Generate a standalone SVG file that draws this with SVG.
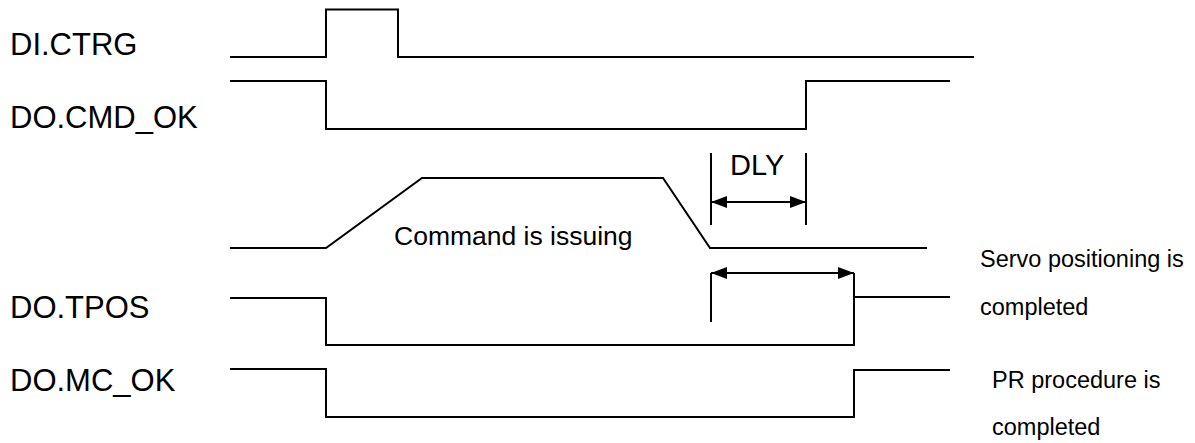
<svg xmlns="http://www.w3.org/2000/svg" width="1195" height="443" viewBox="0 0 1195 443">
<style>
.sig{fill:none;stroke:#000;stroke-width:2;stroke-linejoin:miter}
.dim{fill:none;stroke:#000;stroke-width:2}
.lbl{font-family:"Liberation Sans",Arial,sans-serif;font-size:31px;fill:#000}
.note{font-family:"Liberation Sans",Arial,sans-serif;font-size:23.5px;fill:#000}
</style>
<defs>
<marker id="ah" viewBox="0 0 16 12" refX="16" refY="6" markerWidth="16" markerHeight="12" markerUnits="userSpaceOnUse" orient="auto-start-reverse">
<path d="M0,0 L16,6 L0,12 Z" fill="#000"/>
</marker>
</defs>
<rect width="1195" height="443" fill="#fff"/>
<g id="di-ctrg">
<text class="lbl" x="10" y="55">DI.CTRG</text>
<polyline class="sig" points="230,57 326,57 326,9.5 398,9.5 398,57 974,57"/>
</g>
<g id="do-cmd-ok">
<text class="lbl" x="10" y="127.5">DO.CMD_OK</text>
<polyline class="sig" points="230,81 326,81 326,129 806,129 806,81 950,81"/>
</g>
<g id="command">
<polyline class="sig" points="230,248 326,248 422,178 663,178 710,248 927,248"/>
<text class="note" style="font-size:26.5px" x="394" y="245">Command is issuing</text>
</g>
<g id="do-tpos">
<text class="lbl" x="10" y="318">DO.TPOS</text>
<polyline class="sig" points="230,298 326,298 326,345 854,345 854,273"/>
<polyline class="sig" points="854,297 950,297"/>
<text class="note" x="980" y="267">Servo positioning is</text>
<text class="note" x="980" y="315">completed</text>
</g>
<g id="do-mc-ok">
<text class="lbl" x="10" y="391">DO.MC_OK</text>
<polyline class="sig" points="230,369 326,369 326,417 854,417 854,370 950,370"/>
<text class="note" x="992" y="388">PR procedure is</text>
<text class="note" x="992" y="435">completed</text>
</g>
<g id="connectors">
<line class="dim" x1="711" y1="153" x2="711" y2="225"/>
<line class="dim" x1="806" y1="153" x2="806" y2="225"/>
<line class="dim" x1="711" y1="202" x2="806" y2="202" marker-start="url(#ah)" marker-end="url(#ah)"/>
<text class="lbl" style="font-size:29px" x="730" y="175">DLY</text>
<line class="dim" x1="711" y1="273" x2="711" y2="322"/>
<line class="dim" x1="711" y1="273" x2="854" y2="273" marker-start="url(#ah)" marker-end="url(#ah)"/>
</g>
</svg>
